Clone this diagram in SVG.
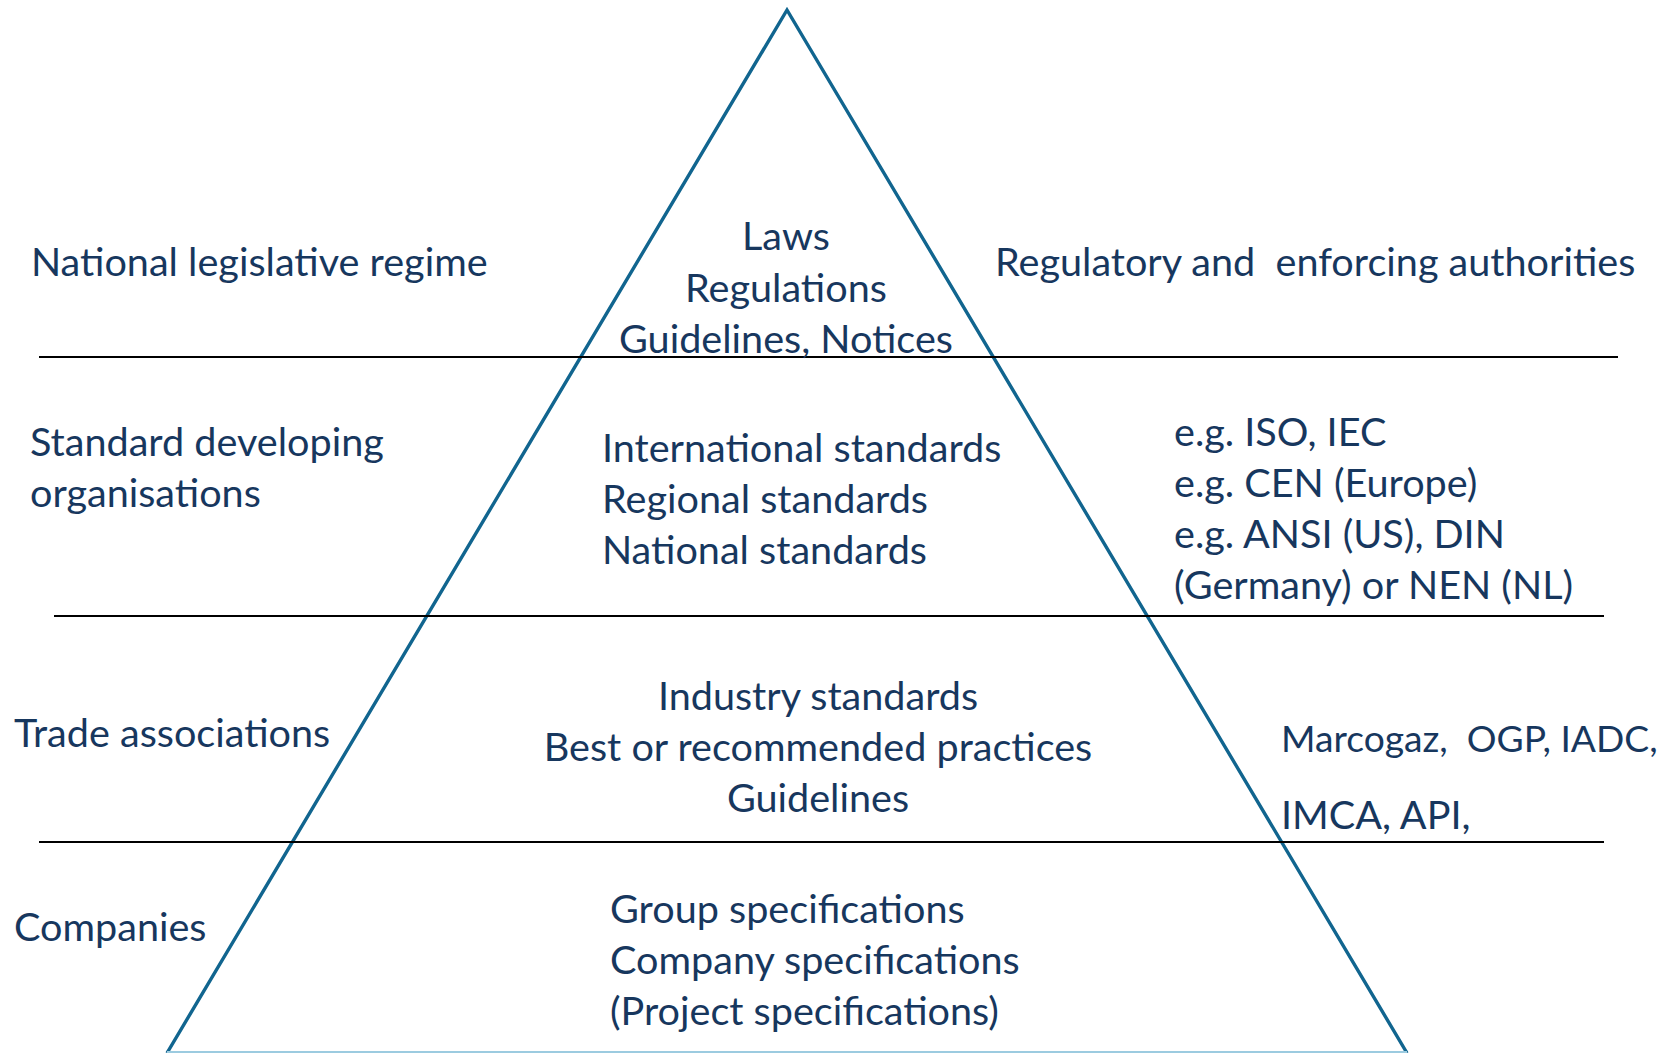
<svg xmlns="http://www.w3.org/2000/svg" width="1670" height="1053" viewBox="0 0 1670 1053">
<style>
  .t { font-family: Lato, "Open Sans", "Liberation Sans", sans-serif; font-size: 39.6px; fill: #17375e; white-space: pre; }
  .c { text-anchor: middle; }
  .s { font-size: 37.2px; }
  .sep { stroke: #000; stroke-width: 2; }
  .tri { fill: none; stroke: #11658f; stroke-width: 3.4; stroke-linejoin: miter; }
</style>
<rect x="0" y="0" width="1670" height="1053" fill="#ffffff"/>
<g id="pyramid">
  <polyline class="tri" points="167,1053 787,10 1407,1053"/>
  <line x1="167" y1="1052" x2="1407" y2="1052" stroke="#9ccbe0" stroke-width="2"/>
</g>
<g id="connectors">
  <line class="sep" x1="39" y1="357" x2="1618" y2="357"/>
  <line class="sep" x1="54" y1="616" x2="1604" y2="616"/>
  <line class="sep" x1="39" y1="842" x2="1604" y2="842"/>
</g>
<g id="level1-left"><text class="t" x="31" y="276">National legislative regime</text></g>
<g id="level1-center">
  <text class="t c" x="786" y="250">Laws</text>
  <text class="t c" x="786" y="302">Regulations</text>
  <text class="t c" x="786" y="353">Guidelines, Notices</text>
</g>
<g id="level1-right"><text class="t" x="995" y="276">Regulatory and  enforcing authorities</text></g>
<g id="level2-left">
  <text class="t" x="30" y="456">Standard developing</text>
  <text class="t" x="30" y="507">organisations</text>
</g>
<g id="level2-center">
  <text class="t" x="602" y="462">International standards</text>
  <text class="t" x="602" y="513">Regional standards</text>
  <text class="t" x="602" y="564">National standards</text>
</g>
<g id="level2-right">
  <text class="t" x="1174" y="446">e.g. ISO, IEC</text>
  <text class="t" x="1174" y="497">e.g. CEN (Europe)</text>
  <text class="t" x="1174" y="548">e.g. ANSI (US), DIN</text>
  <text class="t" x="1174" y="599">(Germany) or NEN (NL)</text>
</g>
<g id="level3-left"><text class="t" x="14" y="747">Trade associations</text></g>
<g id="level3-center">
  <text class="t c" x="818" y="710">Industry standards</text>
  <text class="t c" x="818" y="761">Best or recommended practices</text>
  <text class="t c" x="818" y="812">Guidelines</text>
</g>
<g id="level3-right">
  <text class="t s" x="1281" y="752">Marcogaz,  OGP, IADC,</text>
  <text class="t" x="1281" y="829">IMCA, API,</text>
</g>
<g id="level4-left"><text class="t" x="14" y="941">Companies</text></g>
<g id="level4-center">
  <text class="t" x="610" y="923">Group specifications</text>
  <text class="t" x="610" y="974">Company specifications</text>
  <text class="t" x="610" y="1025">(Project specifications)</text>
</g>
</svg>
